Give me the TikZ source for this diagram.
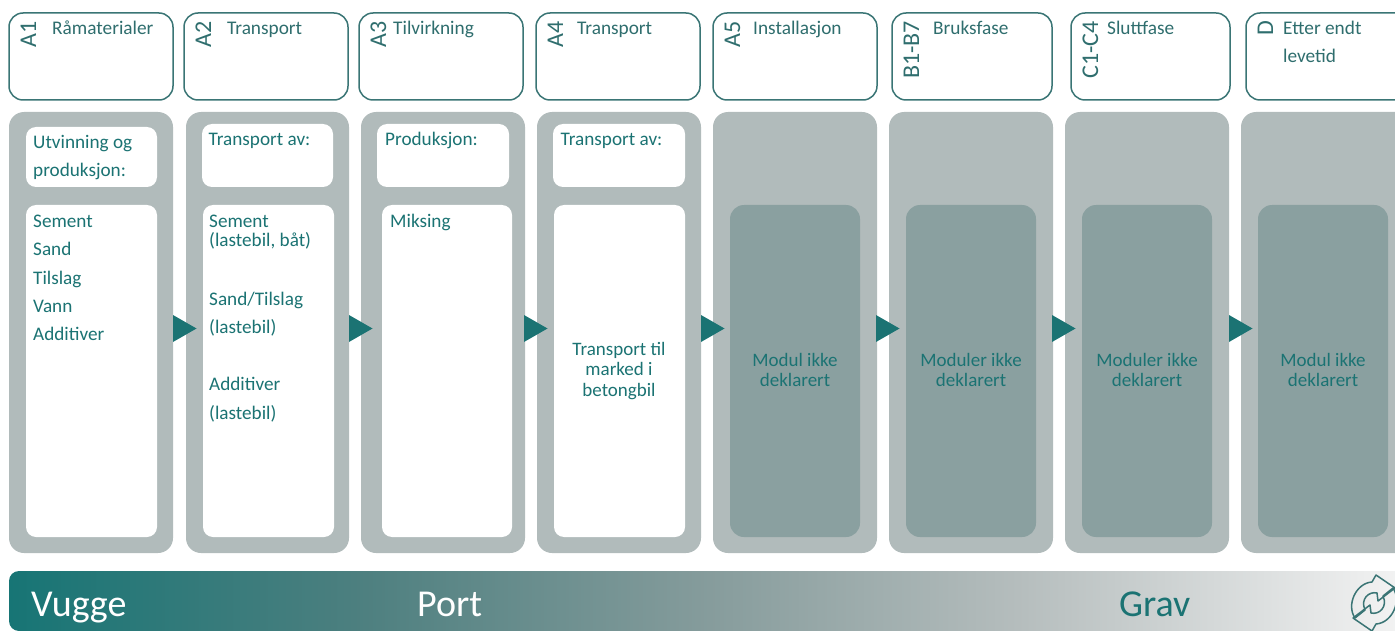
\documentclass[tikz,border=0pt]{standalone}
\usepackage{fontspec}
\setmainfont{Carlito}
\definecolor{teal1}{HTML}{1B7373}
\definecolor{headtxt}{HTML}{2F6E6E}
\definecolor{headline}{HTML}{3A7575}
\definecolor{panel}{HTML}{B1BBBB}
\definecolor{darkp}{HTML}{8AA0A0}
\definecolor{barA}{HTML}{177575}
\definecolor{barB}{HTML}{4C7F7F}
\definecolor{barC}{HTML}{869C9C}
\definecolor{barD}{HTML}{B5BDBD}
\definecolor{barE}{HTML}{F4F4F4}
\pgfdeclarehorizontalshading{barshade}{100bp}{
  color(0bp)=(barA); color(25bp)=(barA); color(37.3bp)=(barB);
  color(50bp)=(barC); color(61bp)=(barD); color(75bp)=(barE); color(100bp)=(barE)}
\tikzset{
  x=1pt,y=-1pt,
  headbox/.style={draw=headline,line width=1.5pt,fill=white,rounded corners=14pt},
  panelbox/.style={fill=panel,rounded corners=15pt},
  whitebox/.style={fill=white,rounded corners=10pt},
  darkbox/.style={fill=darkp,rounded corners=14pt},
  flowtip/.style={fill=teal1},
  headtext/.style={text=headtxt,font=\fontsize{19.3}{19.3}\selectfont,anchor=base west,inner sep=0pt},
  sidetext/.style={text=headtxt,font=\fontsize{24}{24}\selectfont,anchor=base east,inner sep=0pt,rotate=90},
  bodytext/.style={text=teal1,font=\fontsize{19.2}{19.2}\selectfont,anchor=base west,inner sep=0pt},
  midtext/.style={text=teal1,font=\fontsize{19}{19}\selectfont,anchor=base,inner sep=0pt},
  bartext/.style={font=\fontsize{38}{38}\selectfont,anchor=base west,inner sep=0pt},
  iconpart/.style={draw=headline,line width=1.5pt,line join=round}
}
\newcommand{\hb}[3]{\path[headbox] (#2,13) rectangle (#3,100);\coordinate (#1) at (#2,13);}
\begin{document}
\begin{tikzpicture}
\useasboundingbox (0,0) rectangle (1395,631);
\clip (0,0) rectangle (1395,631);
% top boxes
\hb{h1}{9}{173}\hb{h2}{184}{348}\hb{h3}{359}{523}\hb{h4}{536}{700}
\hb{h5}{713}{877}\hb{h6}{892}{1052}\hb{h7}{1071}{1230}\hb{h8}{1246}{1420}
\node[sidetext] (s1) at (36,21) {A1};
\node[sidetext] (s2) at (211,21) {A2};
\node[sidetext] (s3) at (386,21) {A3};
\node[sidetext] (s4) at (563,21) {A4};
\node[sidetext] (s5) at (740,21) {A5};
\node[sidetext] (s6) at (919,21) {B1-B7};
\node[sidetext] (s7) at (1098,21) {C1-C4};
\node[sidetext] (s8) at (1273,21) {D};
\node[headtext] (t1) at (52,34.5) {Råmaterialer};
\node[headtext] (t2) at (227,34.5) {Transport};
\node[headtext] (t3) at (393,34.5) {Tilvirkning};
\node[headtext] (t4) at (577,34.5) {Transport};
\node[headtext] (t5) at (753,34.5) {Installasjon};
\node[headtext] (t6) at (933,34.5) {Bruksfase};
\node[headtext] (t7) at (1107,34.5) {Sluttfase};
\node[headtext] (t8) at (1283,34.5) {Etter endt};
\node[headtext] (t8b) at (1283,62.5) {levetid};
% panels
\foreach \a/\b in {9/173,186/349,361/525,537/701,713/877,889/1053,1065/1229,1241/1420}
  \path[panelbox] (\a,112) rectangle (\b,553);
% white boxes
\path[whitebox] (26,127) rectangle (157,187);
\path[whitebox] (26,205) rectangle (157,537);
\path[whitebox] (202,124) rectangle (333,187);
\path[whitebox] (203,205) rectangle (334,537);
\path[whitebox] (377,124) rectangle (509,187);
\path[whitebox] (382,205) rectangle (512,537);
\path[whitebox] (553,124) rectangle (685,187);
\path[whitebox] (554,205) rectangle (685,537);
% dark boxes
\foreach \a in {730,906,1082,1258}
  \path[darkbox] (\a,205) rectangle ({\a+130},537);
% flow arrows
\foreach \a in {173,349,524,701,876,1052,1229}
  \path[flowtip] (\a,315) -- ({\a+23.5},328.5) -- (\a,342) -- cycle;
% body text
\node[bodytext] (b1) at (33,149) {Utvinning og};
\node[bodytext] (b2) at (33,177) {produksjon:};
\node[bodytext] (b3) at (33,228) {Sement};
\node[bodytext] (b4) at (33,255.5) {Sand};
\node[bodytext] (b5) at (33,284) {Tilslag};
\node[bodytext] (b6) at (33,312) {Vann};
\node[bodytext] (b7) at (33,340.5) {Additiver};
\node[bodytext] (c1) at (208.5,146) {Transport av:};
\node[bodytext] (c2) at (209,228) {Sement};
\node[bodytext] (c3) at (209,247) {(lastebil, båt)};
\node[bodytext] (c4) at (209,305) {Sand/Tilslag};
\node[bodytext] (c5) at (209,333.5) {(lastebil)};
\node[bodytext] (c6) at (209,390) {Additiver};
\node[bodytext] (c7) at (209,419.5) {(lastebil)};
\node[bodytext] (d1) at (385,146) {Produksjon:};
\node[bodytext] (d2) at (390,228) {Miksing};
\node[bodytext] (e1) at (560.5,146) {Transport av:};
\node[midtext] (e2) at (619,355) {Transport til};
\node[midtext] (e3) at (619,375) {marked i};
\node[midtext] (e4) at (619,396) {betongbil};
\node[midtext] (f1) at (795,366) {Modul ikke};
\node[midtext] (f2) at (795,386) {deklarert};
\node[midtext] (g1) at (971,366) {Moduler ikke};
\node[midtext] (g2) at (971,386) {deklarert};
\node[midtext] (k1) at (1147,366) {Moduler ikke};
\node[midtext] (k2) at (1147,386) {deklarert};
\node[midtext] (m1) at (1323,366) {Modul ikke};
\node[midtext] (m2) at (1323,386) {deklarert};
% bottom bar
\path[shading=barshade,rounded corners=10pt] (9,571) rectangle (1410,631);
\node[bartext,text=white] (v1) at (31,616) {Vugge};
\node[bartext,text=white] (v2) at (417,616) {Port};
\node[bartext,text=teal1] (v3) at (1119,616) {Grav};
% cycle icon
\begin{scope}[shift={(1374,603)}]
\foreach \r in {0,180}{
\begin{scope}[rotate=\r]
\path[iconpart] (-19,15) .. controls (-28,2) and (-18,-20) .. (-2,-21)
  -- (2,-28) -- (21,-15) -- (4,-2) -- (3,-10)
  .. controls (-5,-12) and (-14,-4) .. (-9,7) -- cycle;
\end{scope}}
\end{scope}
\end{tikzpicture}
\end{document}
